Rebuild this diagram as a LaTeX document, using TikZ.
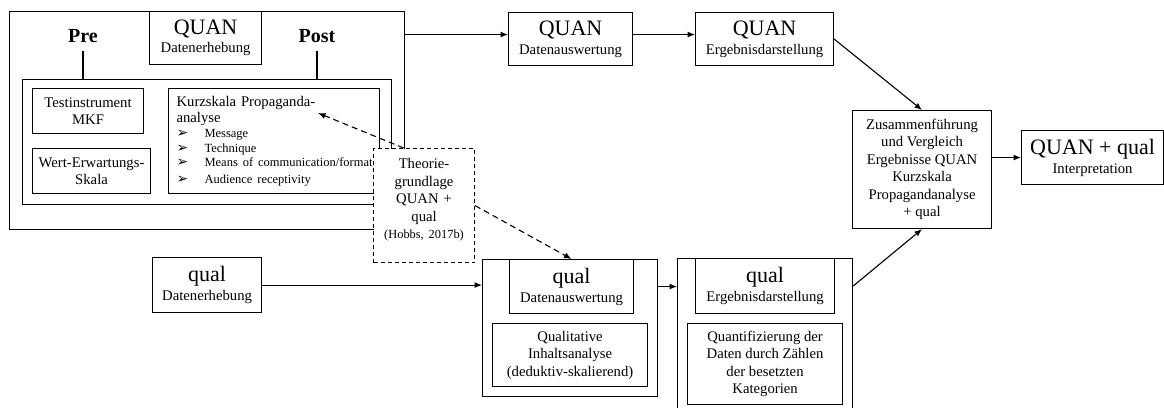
\documentclass[tikz,border=0pt]{standalone}
\usepackage{fontspec}
\setmainfont{Liberation Serif}
\newfontfamily\dejavu{DejaVu Sans}
\usepackage{tikz}
\usetikzlibrary{arrows.meta, positioning, calc}

\newcommand{\bigtitle}{\fontsize{22}{24}\selectfont}
\newcommand{\itemsz}{\fontsize{12.5}{14.7}\selectfont}
\newcommand{\citesz}{\fontsize{12.4}{15}\selectfont}
\newcommand{\bul}[1]{\mbox{\makebox[28pt][l]{\dejavu\fontsize{14}{14}\selectfont ➢}#1}}

\begin{document}
\begin{tikzpicture}[x=1pt, y=-1pt, line width=1.1pt]
        \tikzstyle{box} = [rectangle, draw, anchor=north west, align=center, inner sep=3pt, fill=white, font=\fontsize{14.7}{17.5}\selectfont]
        \tikzstyle{frame} = [rectangle, draw, anchor=north west]
        \tikzstyle{head} = [anchor=base, inner sep=8pt, font=\fontsize{20}{22}\selectfont\bfseries]
        \tikzstyle{arrow} = [-{Latex[length=7.5pt, width=6pt]}]
        \tikzstyle{dasharrow} = [arrow, dash pattern=on 6pt off 4pt]

        \useasboundingbox (0,0) rectangle (1164,407);
        \clip (0,0) rectangle (1164,407);

        % QUAN Datenerhebung (Pre / Post)
        \node (quanout) [frame, minimum width=395pt, minimum height=218pt] at (9,11) {};
        \node (quaninner) [frame, minimum width=369pt, minimum height=125pt] at (22,79) {};
        \node (quanerh) [box, minimum width=112pt, minimum height=53pt] at (149,11) {{\bigtitle QUAN}\\[0.5pt]Datenerhebung};
        \node (pre) [head] at (83,42) {Pre};
        \node (post) [head] at (317,42) {Post};
        \draw (pre.south) -- (pre.south |- quaninner.north);
        \draw (post.south) -- (post.south |- quaninner.north);

        \node (mkf) [box, minimum width=111pt, minimum height=45pt] at (32,88) {Testinstrument\\MKF};
        \node (wert) [box, minimum width=118pt, minimum height=45pt] at (32,148) {Wert-Erwartungs-\\Skala};
        \node (kurz) [box, align=left, inner xsep=8pt, text width=195pt, minimum height=105pt, font=\fontsize{14.7}{16.7}\selectfont] at (168,88)
            {Kurzskala Propaganda-\\analyse\par
             \itemsz\bul{Message}\\
             \bul{Technique}\\
             \bul{Means of communication/format}\\
             \bul{Audience receptivity}};
        \coordinate (kurzend) at ([xshift=150pt, yshift=-25pt]kurz.north west);

        % QUAN Auswertung, Ergebnisse
        \node (quanaus) [box, minimum width=124pt, minimum height=53pt] at (508,12) {{\bigtitle QUAN}\\[1.5pt]Datenauswertung};
        \node (quanerg) [box, minimum width=138pt, minimum height=53pt] at (695,12) {{\bigtitle QUAN}\\[1.5pt]Ergebnisdarstellung};
        \node (zus) [box, minimum width=139pt, minimum height=118pt] at (852,110)
            {Zusammenführung\\und Vergleich\\Ergebnisse QUAN\\Kurzskala\\Propagandanalyse\\+ qual};
        \node (interp) [box, minimum width=142pt, minimum height=54pt] at (1021,130) {{\bigtitle QUAN + qual}\\[1.5pt]Interpretation};

        % qual Strang
        \node (qualerh) [box, minimum width=109pt, minimum height=55pt] at (152,257) {{\bigtitle qual}\\[1.5pt]Datenerhebung};

        \node (qualaus) [frame, minimum width=175pt, minimum height=137pt] at (482,259) {};
        \node (qualaustitle) [box, minimum width=124pt, minimum height=54pt] at (509,259) {{\bigtitle qual}\\[1.5pt]Datenauswertung};
        \node (inhalt) [box, minimum width=155pt, minimum height=63pt] at (492,323) {Qualitative\\Inhaltsanalyse\\(deduktiv-skalierend)};

        \node (qualerg) [frame, minimum width=175pt, minimum height=160pt] at (677,258) {};
        \node (qualergtitle) [box, minimum width=139pt, minimum height=55pt] at (695,258) {{\bigtitle qual}\\[1.5pt]Ergebnisdarstellung};
        \node (quant) [box, minimum width=155pt, minimum height=81pt] at (687,323) {Quantifizierung der\\Daten durch Zählen\\der besetzten\\Kategorien};

        % Theoriegrundlage
        \node (theo) [box, dash pattern=on 4pt off 3pt, inner xsep=5pt, inner ysep=10pt, text width=91pt, text depth=84pt] at (373,148)
            {Theorie-\\grundlage\\QUAN +\\qual\\{\citesz (Hobbs, 2017b)}};

        % Arrows
        \draw [arrow] ([yshift=4.5pt]quanaus.west -| quanout.east) -- ([yshift=4.5pt]quanaus.west);
        \draw [arrow] ([yshift=4.5pt]quanaus.east) -- ([yshift=4.5pt]quanerg.west);
        \draw [arrow] (quanerg.east) -- (zus.north);
        \draw [arrow] (interp.west -| zus.east) -- (interp.west);
        \draw [arrow] (qualerh.east) -- (qualerh.east -| qualaus.west);
        \draw [arrow] (qualaustitle.east -| qualaus.east) -- (qualaustitle.east -| qualerg.west);
        \draw [arrow] (qualergtitle.east -| qualerg.east) -- (zus.south);

        % Theorie arrows
        \draw [dasharrow] ($(theo.north west)!0.3!(theo.north east)$) -- (kurzend);
        \draw [dasharrow] (theo.east) -- (qualaustitle.north);
    \end{tikzpicture}
\end{document}
